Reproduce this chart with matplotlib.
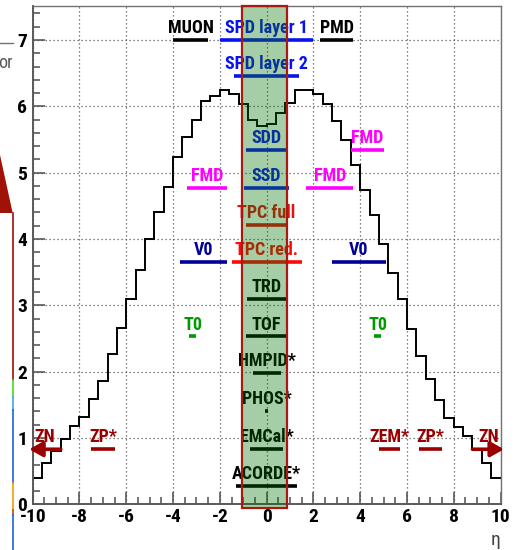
import numpy as np
import matplotlib
matplotlib.use('Agg')
import matplotlib.pyplot as plt
from matplotlib import font_manager
from matplotlib.patches import Rectangle, Polygon
from matplotlib.lines import Line2D
from matplotlib.ticker import MultipleLocator

# prefer a condensed bold face; plain Liberation Sans needs a smaller size
installed = {f.name for f in font_manager.fontManager.ttflist}
narrow = [n for n in ('Liberation Sans Narrow', 'Roboto Condensed', 'Open Sans Condensed')
          if n in installed]
plt.rcParams['font.family'] = narrow[:1] + ['Liberation Sans', 'DejaVu Sans']
plt.rcParams['font.weight'] = 'bold'
plt.rcParams['axes.unicode_minus'] = False
label_size = 13 if narrow else 11.5
tick_size = 14 if narrow else 12.5

# charged-particle dN/deta, 0.4 wide bins from eta = -10 to 10
eta_min, eta_max = -10.0, 10.0
dndeta = [0.40, 0.62, 0.80, 0.99, 1.18, 1.32, 1.58, 1.86, 2.27, 2.66,
          3.09, 3.53, 4.00, 4.41, 4.78, 5.24, 5.54, 5.79, 6.08, 6.15,
          6.25, 6.18, 6.03, 5.79, 5.70, 5.74, 5.90, 6.05, 6.25, 6.25,
          6.18, 6.03, 5.78, 5.49, 5.12, 4.74, 4.36, 3.92, 3.49, 3.09,
          2.64, 2.24, 1.89, 1.57, 1.30, 1.16, 1.03, 0.84, 0.62, 0.40]

# detector acceptances: label, eta range, row level
det_names = ['MUON', 'SPD layer 1', 'PMD', 'SPD layer 2', 'SDD',
             'FMD', 'FMD', 'FMD', 'SSD', 'TPC full', 'TPC red.',
             'V0', 'V0', 'TRD', 'TOF', 'T0', 'T0', 'HMPID*', 'PHOS*',
             'EMCal*', 'ACORDE*', 'ZP*', 'ZEM*', 'ZP*']
det_eta_lo = [-4.0, -2.0, 2.3, -1.4, -0.9,
              -3.4, 3.6, 1.7, -0.95, -0.9, -1.5,
              -3.7, 2.8, -0.84, -0.88, -3.3, 4.6, -0.6, -0.07,
              -0.7, -1.3, -7.5, 4.8, 6.5]
det_eta_hi = [-2.5, 2.0, 3.7, 1.4, 0.9,
              -1.7, 5.0, 3.7, 0.95, 0.9, 1.5,
              -1.7, 5.1, 0.84, 0.88, -3.0, 4.9, 0.6, 0.07,
              0.7, 1.3, -6.5, 5.7, 7.5]
det_row = [7.0, 7.0, 7.0, 6.46, 5.34,
           4.77, 5.34, 4.77, 4.77, 4.21, 3.66,
           3.66, 3.66, 3.10, 2.53, 2.53, 2.53, 1.98, 1.40,
           0.83, 0.28, 0.83, 0.83, 0.83]

# zero-degree neutron calorimeters, beyond the plotted range
zn_eta_from = [-8.8, 8.8]
zn_eta_to = [-10.15, 10.15]
zn_row = 0.83

# central barrel band
barrel_eta = (-1.07, 0.87)

det_colors = {
    'MUON': 'black', 'PMD': 'black', 'TRD': 'black', 'TOF': 'black',
    'HMPID*': 'black', 'PHOS*': 'black', 'EMCal*': 'black', 'ACORDE*': 'black',
    'SPD layer 1': '#0814f0', 'SPD layer 2': '#0814f0', 'SDD': '#0814f0', 'SSD': '#0814f0',
    'FMD': '#ff00ff', 'TPC full': '#e51010', 'TPC red.': '#ff0808',
    'V0': '#000098', 'T0': '#009a00',
    'ZP*': '#9a0000', 'ZEM*': '#9a0000', 'ZN': '#9a0000',
}

W, H = 515, 550
fig = plt.figure(figsize=(W / 100, H / 100), dpi=100)
ax = fig.add_axes([32.7 / W, 1 - 504.3 / H, (500.5 - 32.7) / W, (504.3 - 5.7) / H])

edges = np.linspace(eta_min, eta_max, len(dndeta) + 1)
ax.stairs(dndeta, edges, baseline=None, color='black', lw=1.4, zorder=2)

for name, lo, hi, row in zip(det_names, det_eta_lo, det_eta_hi, det_row):
    c = det_colors[name]
    ax.plot([lo, hi], [row, row], color=c, lw=2.6, solid_capstyle='butt', zorder=2.2)
    ax.annotate(name, xy=((lo + hi) / 2, row), xytext=(0, 5), textcoords='offset points',
                ha='center', va='baseline', color=c, fontsize=label_size, fontweight='bold',
                annotation_clip=False)

for e0, e1 in zip(zn_eta_from, zn_eta_to):
    c = det_colors['ZN']
    ax.annotate('', xy=(e1, zn_row), xytext=(e0, zn_row), annotation_clip=False,
                arrowprops=dict(arrowstyle='-|>,head_length=0.8,head_width=0.45', lw=2.6,
                                color=c, shrinkA=0, shrinkB=0, mutation_scale=10))
    ax.annotate('ZN', xy=((e0 + e1) / 2, zn_row), xytext=(0, 5), textcoords='offset points',
                ha='center', va='baseline', color=c, fontsize=label_size, fontweight='bold',
                annotation_clip=False)

ax.add_patch(Rectangle((barrel_eta[0], -0.05), barrel_eta[1] - barrel_eta[0], 7.57,
                       facecolor=(0.0, 0.45, 0.0, 0.35), edgecolor='#a81a10', lw=1.6,
                       zorder=4, clip_on=False))

ax.set_xlim(eta_min, eta_max)
ax.set_ylim(0, 7.517)
ax.xaxis.set_major_locator(MultipleLocator(2))
ax.xaxis.set_minor_locator(MultipleLocator(0.5))
ax.yaxis.set_major_locator(MultipleLocator(1))
ax.yaxis.set_minor_locator(MultipleLocator(0.2))
ax.grid(True, which='major', color='0.35', linestyle=(0, (1, 2.2)), lw=0.9)
ax.set_axisbelow(True)
ax.tick_params(which='both', direction='in', colors='0.3', labelcolor='black',
               labelsize=tick_size, width=1.1)
ax.tick_params(which='major', length=8.5)
ax.tick_params(which='minor', length=5)
ax.tick_params(axis='y', pad=4)
ax.tick_params(axis='x', pad=3)
for side in ('left', 'bottom'):
    ax.spines[side].set_color('0.35')
    ax.spines[side].set_linewidth(1.4)
for side in ('top', 'right'):
    ax.spines[side].set_color('0.45')
    ax.spines[side].set_linewidth(1.0)

fig.canvas.draw()
ylabels = ax.get_yticklabels()
ylabels[0].set_verticalalignment('bottom')

fig.text(500 / W, 1 - 549 / H, 'η', ha='right', va='bottom', fontsize=14,
         fontweight='normal', color='0.25')

# slide remnants along the left edge
fig.patches.append(Polygon([(0, 1 - 155 / H), (12.7 / W, 1 - 213 / H), (0, 1 - 213 / H)],
                           closed=True, transform=fig.transFigure, facecolor='#a01208',
                           edgecolor='none'))
strip_colors = ['#a01208', '#40e020', '#40a8f0', '#2060e8', '#f0a000', '#e04010', '#2060e8']
strip_bounds = [213, 380, 397, 410, 483, 510, 515, 550]
for c, y0, y1 in zip(strip_colors, strip_bounds[:-1], strip_bounds[1:]):
    fig.lines.append(Line2D([12.6 / W, 12.6 / W], [1 - y0 / H, 1 - y1 / H], color=c, lw=1.2,
                            transform=fig.transFigure))
fig.text(13 / W, 1 - 68 / H, 'or', ha='right', va='baseline', fontsize=13,
         fontweight='normal', color='0.35')
fig.lines.append(Line2D([0, 13 / W], [1 - 43 / H, 1 - 43 / H], color='0.45', lw=1.0,
                        transform=fig.transFigure))

fig.savefig('out.png', dpi=100)
